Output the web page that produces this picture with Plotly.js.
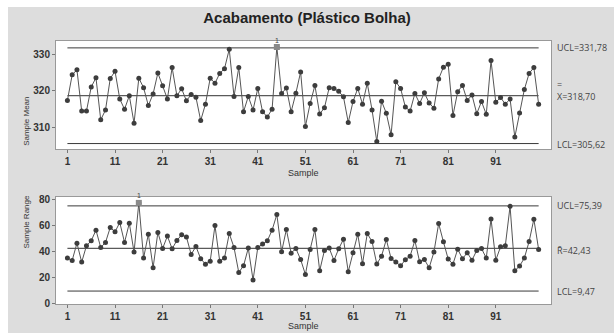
<!DOCTYPE html>
<html>
<head>
<meta charset="utf-8">
<script src="https://cdn.plot.ly/plotly-3.0.1.min.js"></script>
<style>
  html, body { margin: 0; padding: 0; background: #ffffff; }
  #chart { position: absolute; left: 8px; top: 7px; width: 606px; height: 326px; }
</style>
</head>
<body>
<div id="chart"></div>
<script>
// ---- Data ----
const chartTitle = "Acabamento (Plástico Bolha)";
const sampleTicks = [1, 11, 21, 31, 41, 51, 61, 71, 81, 91];

const sampleMeans = [
  317.4, 324.4, 325.8, 314.5, 314.5, 321.1, 323.6, 312.1, 314.8, 323.4,
  325.4, 317.8, 315.0, 318.7, 311.2, 323.5, 320.9, 316.0, 319.2, 324.9,
  321.4, 317.8, 326.4, 318.7, 320.6, 317.3, 319.0, 318.3, 311.9, 316.4,
  323.5, 322.1, 324.8, 326.1, 331.4, 318.5, 326.4, 314.3, 318.5, 314.8,
  320.7, 314.3, 312.9, 315.0, 332.0, 319.3, 320.8, 314.3, 319.4, 325.2,
  310.3, 316.6, 321.5, 313.7, 315.4, 320.9, 320.7, 319.9, 318.4, 311.4,
  317.1, 320.7, 316.4, 322.1, 314.8, 306.2, 317.2, 313.9, 308.0, 322.5,
  320.7, 315.6, 314.5, 319.3, 316.6, 319.5, 316.7, 315.3, 323.3, 326.5,
  327.3, 313.3, 319.8, 321.5, 317.4, 318.9, 313.8, 317.1, 313.6, 328.3,
  316.9, 318.2, 316.4, 317.8, 307.4, 314.0, 320.4, 324.8, 326.4, 316.4
];

const sampleRanges = [
  35.0, 33.2, 46.5, 31.9, 44.5, 48.4, 56.6, 43.2, 47.1, 58.7,
  55.3, 62.5, 47.1, 62.0, 39.6, 77.7, 35.0, 53.5, 27.5, 54.8,
  42.4, 52.0, 42.2, 48.6, 53.0, 51.4, 37.8, 44.0, 34.5, 30.3,
  32.6, 60.2, 32.6, 35.1, 54.0, 43.2, 23.9, 29.0, 42.7, 18.0,
  43.2, 45.8, 48.4, 56.6, 68.7, 39.9, 57.1, 38.8, 42.4, 33.9,
  22.3, 41.7, 57.1, 25.2, 40.9, 42.7, 33.2, 42.2, 49.6, 24.4,
  39.1, 53.5, 30.6, 54.0, 47.8, 30.4, 36.5, 49.4, 34.7, 31.9,
  29.0, 33.7, 36.5, 48.6, 32.1, 33.9, 27.5, 39.6, 61.7, 47.6,
  34.2, 30.3, 41.9, 34.5, 39.1, 33.4, 40.9, 42.4, 35.0, 65.3,
  33.4, 43.7, 44.5, 75.1, 25.2, 28.8, 35.0, 47.8, 65.1, 41.7
];

const meanLimits = { ucl: 331.78, cl: 318.70, lcl: 305.62 };
const rangeLimits = { ucl: 75.39, cl: 42.43, lcl: 9.47 };
const meanLabels = ["UCL=331,78", "=<br>X=318,70", "LCL=305,62"];
const rangeLabels = ["UCL=75,39", "R\u0304=42,43", "LCL=9,47"];

// ---- Build ----
const samples = sampleMeans.map((_, i) => i + 1);
const first = samples[0], last = samples[samples.length - 1];

const lineCol = "#555555";
const markCol = "#3d3d3d";
const limCol = "#3a3a3a";

function seriesTrace(y, xa, ya) {
  return { x: samples, y: y, xaxis: xa, yaxis: ya, type: "scatter", mode: "lines+markers",
    line: { color: lineCol, width: 1 }, marker: { color: markCol, size: 5 }, hoverinfo: "none" };
}
function hline(v, xa, ya, w, c) {
  return { x: [first, last], y: [v, v], xaxis: xa, yaxis: ya, type: "scatter", mode: "lines",
    line: { color: c, width: w }, hoverinfo: "none" };
}
function outTrace(y, lim, xa, ya) {
  const xs = [], ys = [];
  y.forEach((v, i) => { if (v > lim.ucl || v < lim.lcl) { xs.push(samples[i]); ys.push(v); } });
  return { x: xs, y: ys, xaxis: xa, yaxis: ya, type: "scatter", mode: "markers",
    marker: { color: "#8a8a8a", size: 6, symbol: "square" }, hoverinfo: "none" };
}
function outLabels(y, lim, xr, yr) {
  const a = [];
  y.forEach((v, i) => {
    if (v > lim.ucl || v < lim.lcl) a.push({ x: samples[i], y: v, xref: xr, yref: yr, text: "1",
      showarrow: false, yshift: 7, font: { size: 7, color: "#444", family: "Liberation Sans, Arial" } });
  });
  return a;
}

const traces = [
  hline(meanLimits.ucl, "x", "y", 1, limCol),
  hline(meanLimits.lcl, "x", "y", 1, limCol),
  hline(meanLimits.cl, "x", "y", 1.2, "#5a5a5a"),
  seriesTrace(sampleMeans, "x", "y"),
  outTrace(sampleMeans, meanLimits, "x", "y"),
  hline(rangeLimits.ucl, "x2", "y2", 1, limCol),
  hline(rangeLimits.lcl, "x2", "y2", 1, limCol),
  hline(rangeLimits.cl, "x2", "y2", 1.2, "#5a5a5a"),
  seriesTrace(sampleRanges, "x2", "y2"),
  outTrace(sampleRanges, rangeLimits, "x2", "y2")
];

const tickFont = { size: 10, color: "#333", family: "Liberation Sans, Arial", weight: "bold" };
function xAxis(anchor) {
  return { domain: [0, 1], anchor: anchor, range: [-1.4, 102.6], tickvals: sampleTicks,
    ticktext: sampleTicks.map(String), ticks: "outside", ticklen: 3, tickcolor: "#777",
    showline: true, mirror: true, linecolor: "#999", linewidth: 1, showgrid: false, zeroline: false,
    tickfont: tickFont };
}
function yAxis(anchor, dom, rng, tv) {
  return { domain: dom, anchor: anchor, range: rng, tickvals: tv, ticks: "outside", ticklen: 3,
    tickcolor: "#777", showline: true, mirror: true, linecolor: "#999", linewidth: 1,
    showgrid: false, zeroline: false, tickfont: tickFont };
}

const labFont = { size: 9, color: "#444", family: "Open Sans, DejaVu Sans" };
function limLabel(text, v, yr, shift) {
  return { xref: "paper", x: 1, xanchor: "left", xshift: 4, yref: yr, y: v, yshift: shift || 0,
    text: text, align: "left", showarrow: false, font: labFont };
}
const axTitleFont = { size: 8, color: "#333", family: "Liberation Sans, Arial" };

const annotations = [
  limLabel(meanLabels[0], meanLimits.ucl, "y"),
  limLabel(meanLabels[1], meanLimits.cl, "y", 5),
  limLabel(meanLabels[2], meanLimits.lcl, "y", -1),
  limLabel(rangeLabels[0], rangeLimits.ucl, "y2"),
  limLabel(rangeLabels[1], rangeLimits.cl, "y2", -2),
  limLabel(rangeLabels[2], rangeLimits.lcl, "y2"),
  { xref: "paper", yref: "paper", x: 0, xshift: -36, y: (0.5644 + 0.8966) / 2, text: "Sample Mean",
    textangle: -90, showarrow: false, font: axTitleFont },
  { xref: "paper", yref: "paper", x: 0, xshift: -36, y: (0.089 + 0.4172) / 2, text: "Sample Range",
    textangle: -90, showarrow: false, font: axTitleFont },
  { xref: "paper", yref: "paper", x: 0.5, y: 0.5644, yshift: -24, yanchor: "middle", text: "Sample",
    showarrow: false, font: { size: 9, color: "#333", family: "Liberation Sans, Arial" } },
  { xref: "paper", yref: "paper", x: 0.5, y: 0.089, yshift: -22, yanchor: "middle", text: "Sample",
    showarrow: false, font: { size: 9, color: "#333", family: "Liberation Sans, Arial" } }
].concat(outLabels(sampleMeans, meanLimits, "x", "y"), outLabels(sampleRanges, rangeLimits, "x2", "y2"));

const layout = {
  width: 606, height: 326,
  margin: { l: 48, r: 63, t: 0, b: 0 },
  paper_bgcolor: "#dddddd", plot_bgcolor: "#ffffff",
  showlegend: false,
  title: { text: chartTitle, x: 0.4934, xref: "container", y: 0.966, yref: "container",
    xanchor: "center", yanchor: "middle",
    font: { size: 15, color: "#222", family: "Liberation Sans, Arial", weight: "bold" } },
  xaxis: xAxis("y"),
  yaxis: yAxis("x", [0.5644, 0.8966], [304.13, 333.74], [310, 320, 330]),
  xaxis2: xAxis("y2"),
  yaxis2: yAxis("x2", [0.089, 0.4172], [-0.54, 82.27], [0, 20, 40, 60, 80]),
  annotations: annotations
};

Plotly.newPlot("chart", traces, layout, { staticPlot: true, displayModeBar: false });
</script>
</body>
</html>
